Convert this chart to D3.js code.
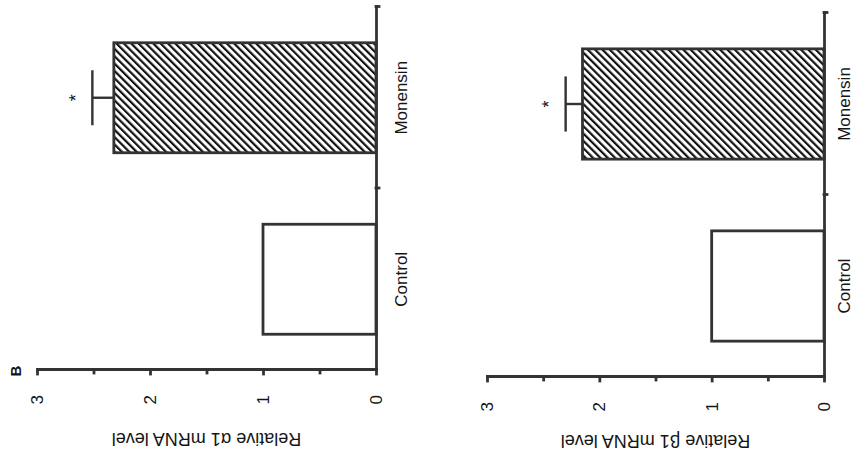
<!DOCTYPE html>
<html>
<head>
<meta charset="utf-8">
<script src="https://cdn.jsdelivr.net/npm/d3@7"></script>
<style>
  body { margin: 0; background: #fff; }
  svg { display: block; background: #fff; }
  text { font-family: "Liberation Sans", Arial, Helvetica, sans-serif; fill: #151515; }
</style>
</head>
<body>
<svg id="fig" width="853" height="456"></svg>
<script>
// Relative mRNA levels (Control normalised to 1), mean and error
const categories = ["Control", "Monensin"];
const alpha1Values = [1.0, 2.32];
const alpha1Errors = [0, 0.19];
const beta1Values = [1.0, 2.15];
const beta1Errors = [0, 0.15];
const significance = ["", "*"];
const valueTicks = [0, 1, 2, 3];
const minorTicks = [0.5, 1.5, 2.5];

const ink = "#333";

// Each panel is laid out upright in its own frame, then turned a quarter turn
const panels = [
  { label: "B", title: "Relative \u03b11 mRNA level", values: alpha1Values, errors: alpha1Errors,
    tx: 37, ty: 370, w: 363, h: 339, titleOff: 62.5, catOff: 31 },
  { label: "", title: "Relative \u03b21 mRNA level", values: beta1Values, errors: beta1Errors,
    tx: 487, ty: 377, w: 364, h: 337, titleOff: 58, catOff: 26 }
];

const svg = d3.select("#fig");

// diagonal hatch for the treated bar
const defs = svg.append("defs");
const pat = defs.append("pattern")
  .attr("id", "hatch")
  .attr("patternUnits", "userSpaceOnUse")
  .attr("width", 5.2)
  .attr("height", 10)
  .attr("patternTransform", "rotate(45)");
pat.append("rect").attr("x", 0).attr("y", 0).attr("width", 2.2).attr("height", 10).attr("fill", "#111");

panels.forEach(p => {
  const g = svg.append("g")
    .attr("transform", `translate(${p.tx},${p.ty}) rotate(-90)`);

  const x = d3.scaleBand().domain(categories).range([0, p.w])
    .paddingInner(0.394).paddingOuter(0.197);
  const y = d3.scaleLinear().domain([0, 3]).range([p.h, 0]);
  const bw = x.bandwidth();

  // bars
  g.selectAll("rect.bar")
    .data(categories.map((c, i) => ({ c, v: p.values[i], i })))
    .join("rect")
    .attr("class", "bar")
    .attr("x", d => x(d.c))
    .attr("y", d => y(d.v))
    .attr("width", bw)
    .attr("height", d => y(0) - y(d.v))
    .attr("fill", d => d.i === 0 ? "#fff" : "url(#hatch)")
    .attr("stroke", ink)
    .attr("stroke-width", 2.8);

  // error bars (upper side only) and significance marks
  categories.forEach((c, i) => {
    const e = p.errors[i];
    if (e <= 0) return;
    const cx = x(c) + bw / 2;
    const top = y(p.values[i] + e);
    g.append("line").attr("x1", cx).attr("x2", cx)
      .attr("y1", y(p.values[i])).attr("y2", top)
      .attr("stroke", ink).attr("stroke-width", 2.4);
    g.append("line").attr("x1", cx - bw / 4).attr("x2", cx + bw / 4)
      .attr("y1", top).attr("y2", top)
      .attr("stroke", ink).attr("stroke-width", 2.4);
    if (significance[i]) {
      g.append("text")
        .attr("x", cx).attr("y", top - 21 + 10.4)
        .attr("text-anchor", "middle")
        .attr("font-size", 18)
        .text(significance[i]);
    }
  });

  // value axis with major and half-unit ticks
  const yAxis = g.append("g")
    .call(d3.axisLeft(y).tickValues(valueTicks).tickSizeInner(4).tickSizeOuter(0)
      .tickPadding(21).tickFormat(d3.format("d")));
  const yMinor = g.append("g")
    .call(d3.axisLeft(y).tickValues(minorTicks).tickSizeInner(3).tickSizeOuter(0).tickFormat(""));
  yMinor.select(".domain").remove();

  // category axis: ticks at the group boundaries
  const xPos = d3.scaleLinear().domain([0, categories.length]).range([0, p.w]);
  const xAxis = g.append("g")
    .attr("transform", `translate(0,${p.h})`)
    .call(d3.axisBottom(xPos).tickValues([1, 2]).tickSizeInner(3).tickSizeOuter(0).tickFormat(""));

  [yAxis, yMinor, xAxis].forEach(a => {
    a.attr("font-family", null).attr("font-size", null);
    a.selectAll("path, line").attr("stroke", ink).attr("stroke-width", 2.8)
      .attr("stroke-linecap", "square");
  });
  yAxis.selectAll("text").attr("font-size", 17).attr("fill", "#151515");

  // category labels
  g.selectAll("text.cat")
    .data(categories)
    .join("text")
    .attr("class", "cat")
    .attr("x", d => x(d) + bw / 2)
    .attr("y", p.h + p.catOff)
    .attr("text-anchor", "middle")
    .attr("font-size", 17)
    .text(d => d);

  // value axis title
  g.append("text")
    .attr("transform", `translate(${-p.titleOff},${p.h / 2}) rotate(-90)`)
    .attr("text-anchor", "middle")
    .attr("font-size", 18)
    .text(p.title);

  // panel letter
  if (p.label) {
    g.append("text")
      .attr("x", -1).attr("y", -16.5)
      .attr("text-anchor", "middle")
      .attr("font-size", 15)
      .attr("font-weight", "bold")
      .text(p.label);
  }
});
</script>
</body>
</html>
